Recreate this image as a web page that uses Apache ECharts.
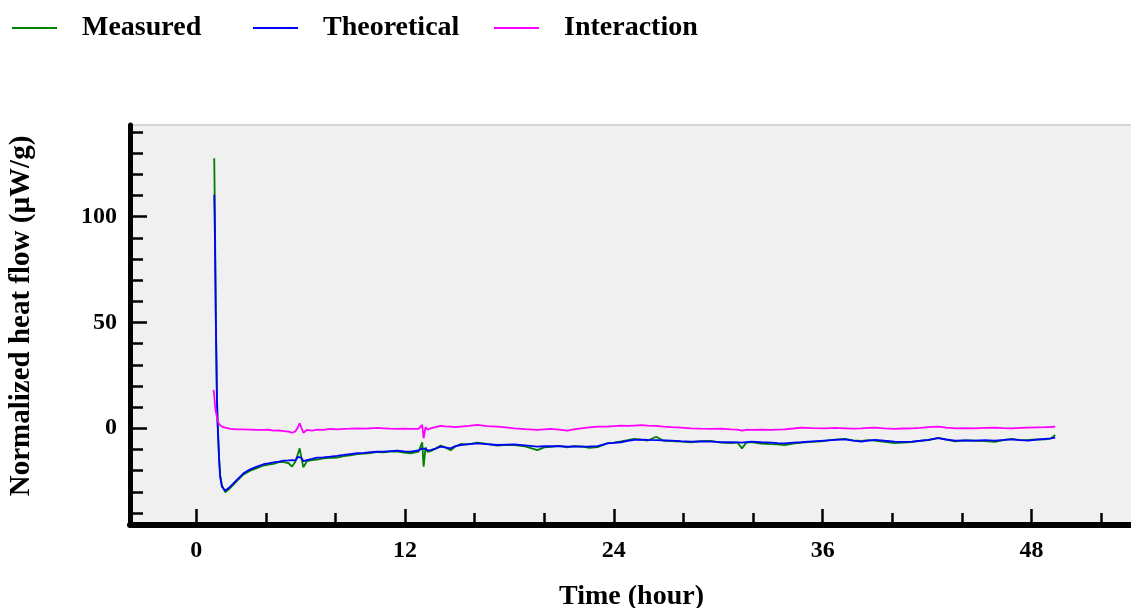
<!DOCTYPE html>
<html>
<head>
<meta charset="utf-8">
<title>Normalized heat flow</title>
<script src="https://cdn.jsdelivr.net/npm/echarts@6.0.0/dist/echarts.min.js"></script>
<style>
  html, body { margin: 0; padding: 0; background: #ffffff; }
  #chart { width: 1131px; height: 608px; }
</style>
</head>
<body>
<div id="chart"></div>
<script>
// Time axis (hours) shared by all three curves
const hours = [
  1.00, 1.04, 1.08, 1.13, 1.19, 1.23, 1.32, 1.38, 1.48, 1.67, 1.96, 2.34, 2.72, 3.11, 3.49, 3.87,
  4.15, 4.45, 4.75, 5.03, 5.30, 5.51, 5.70, 5.85, 5.95, 6.05, 6.16, 6.37, 6.65, 6.95, 7.30, 7.71,
  8.10, 8.48, 8.85, 9.25, 9.65, 10.02, 10.40, 10.78, 11.15, 11.55, 11.95, 12.32, 12.78, 12.99, 13.07,
  13.18, 13.30, 13.47, 13.75, 14.05, 14.30, 14.62, 14.90, 15.20, 15.65, 16.16, 16.70, 17.31, 17.80,
  18.27, 18.90, 19.61, 20.00, 20.38, 20.85, 21.34, 21.70, 22.11, 22.60, 23.07, 23.64, 24.00, 24.41,
  24.80, 25.18, 25.56, 25.95, 26.43, 26.85, 27.29, 27.85, 28.44, 29.00, 29.59, 30.15, 30.74, 31.10,
  31.36, 31.60, 31.89, 32.45, 33.05, 33.40, 33.81, 34.30, 34.77, 35.40, 36.11, 36.70, 37.27, 37.75,
  38.23, 38.60, 38.99, 39.55, 40.14, 40.60, 41.11, 41.60, 42.07, 42.64, 43.10, 43.60, 44.20, 44.75,
  45.30, 45.90, 46.40, 46.86, 47.35, 47.82, 48.30, 48.78, 49.10, 49.36
];

// Measured heat flow (µW/g)
const measured = [
  null, 127.6, 100, 55, 18, 4, -14, -22, -27, -30.2, -28.2, -25, -21.8, -20, -18.8, -17.6,
  -17.2, -16.8, -16.0, -16.0, -16.4, -18.1, -15.8, -12.0, -9.5, -14.0, -18.4, -15.5, -15.0, -14.8, -14.2, -14.0,
  -13.9, -13.2, -12.8, -12.2, -12.0, -11.7, -11.2, -11.4, -11.0, -10.9, -11.5, -11.8, -11.0, -6.6, -18.1,
  -9.0, -11.2, -10.8, -9.6, -8.2, -9.0, -10.4, -8.6, -7.5, -7.6, -6.8, -7.4, -8.2, -7.8,
  -7.9, -8.5, -10.3, -9.0, -8.8, -8.3, -9.0, -8.4, -8.6, -9.2, -8.9, -7.0, -6.8, -6.2,
  -5.6, -5.0, -5.4, -5.8, -4.0, -5.9, -6.0, -6.3, -6.6, -6.1, -6.0, -6.8, -7.0, -6.7,
  -9.5, -6.9, -6.5, -7.2, -7.5, -7.6, -8.0, -7.2, -6.8, -6.4, -6.0, -5.4, -5.0, -5.7,
  -6.0, -5.6, -5.8, -6.4, -7.0, -6.8, -6.5, -6.0, -5.6, -4.5, -5.4, -6.2, -5.7, -5.9,
  -6.1, -6.4, -5.6, -5.0, -5.6, -5.5, -5.3, -5.2, -4.9, -3.2
];

// Theoretical heat flow (µW/g)
const theoretical = [
  null, 110.3, 90, 52, 16, 3, -15, -22.9, -27.6, -29.5, -27.6, -24.4, -21.3, -19.4, -18.1, -17.0,
  -16.6, -16.1, -15.8, -15.3, -15.2, -15.0, -15.2, -13.5, -12.6, -14.0, -15.5, -15.0, -14.5, -13.9, -13.7, -13.4,
  -13.0, -12.6, -12.2, -11.8, -11.6, -11.3, -11.1, -11.0, -10.8, -10.6, -10.9, -11.0, -10.5, -9.5, -10.0,
  -9.8, -10.4, -10.3, -9.6, -8.7, -9.0, -9.5, -8.4, -7.9, -7.5, -7.1, -7.5, -7.9, -7.7,
  -7.6, -8.1, -8.7, -8.5, -8.4, -8.5, -8.7, -8.6, -8.7, -8.6, -8.4, -7.1, -6.9, -6.6,
  -5.9, -5.5, -5.4, -5.5, -5.6, -5.7, -5.8, -6.1, -6.3, -6.2, -6.3, -6.5, -6.6, -6.7,
  -6.8, -6.5, -6.3, -6.6, -6.8, -7.0, -7.1, -6.8, -6.6, -6.2, -5.8, -5.5, -5.2, -5.8,
  -6.3, -5.8, -5.5, -5.9, -6.3, -6.4, -6.3, -5.9, -5.5, -4.7, -5.3, -5.8, -5.7, -5.8,
  -5.6, -5.8, -5.5, -5.2, -5.6, -5.8, -5.4, -5.0, -4.8, -4.4
];

// Interaction heat flow (µW/g)
const interaction = [
  18.1, 15.5, 11, 8, 5.5, 3.5, 2.0, 1.5, 0.8, 0.3, -0.3, -0.5, -0.5, -0.6, -0.8, -0.8,
  -0.7, -1.1, -1.0, -1.3, -1.6, -2.1, -1.5, 0.5, 2.4, 0.2, -2.1, -0.8, -1.1, -0.6, -0.8, -0.3,
  -0.5, -0.3, -0.2, 0, -0.2, 0, 0.2, 0, -0.2, -0.3, -0.2, -0.3, -0.3, 1.6, -4.7,
  0.5, -0.6, 0, 0.6, 1.1, 0.9, 0.8, 0.5, 0.8, 1.1, 1.6, 1.0, 0.8, 0.4,
  0, -0.4, -0.8, -0.5, -0.3, -0.6, -1.1, -0.5, 0, 0.4, 0.8, 0.8, 1.0, 1.3,
  1.1, 1.3, 1.5, 1.3, 1.1, 0.8, 0.5, 0.3, 0, -0.2, -0.3, -0.2, -0.5, -0.6,
  -1.1, -0.7, -0.8, -0.6, -0.8, -0.6, -0.5, -0.1, 0.3, 0.1, 0, 0.2, 0, -0.2,
  0, 0.2, 0.3, 0, -0.3, -0.1, 0, 0.2, 0.5, 0.8, 0.3, 0, 0.1, 0,
  0.2, 0.3, 0.1, 0, 0.2, 0.3, 0.4, 0.5, 0.6, 0.8
];

// Tick positions
const xMajorTicks = [0, 12, 24, 36, 48];
const xMinorTicks = [4, 8, 16, 20, 28, 32, 40, 44, 52];
const yMajorTicks = [0, 50, 100];
const yMinorTicks = [-40, -30, -20, -10, 10, 20, 30, 40, 60, 70, 80, 90, 110, 120, 130, 140];

const pairs = vals => hours.map((t, i) => [t, vals[i]]);

const serifFont = "'Liberation Serif', 'Times New Roman', serif";
const X_MIN = -3.8, X_MAX = 53.83, Y_MIN = -45.7, Y_MAX = 143.3;

const legendText = {
  color: '#000', fontFamily: serifFont, fontWeight: 'bold', fontSize: 28,
  padding: [0, 0, 16, 20]
};
const makeLegend = (name, left) => ({
  data: [name], left: left, top: 9, icon: 'rect', itemWidth: 45, itemHeight: 2,
  textStyle: legendText, selectedMode: false
});

const chart = echarts.init(document.getElementById('chart'), null, { renderer: 'canvas' });

chart.setOption({
  animation: false,
  backgroundColor: '#ffffff',
  legend: [
    makeLegend('Measured', 7),
    makeLegend('Theoretical', 248),
    makeLegend('Interaction', 489)
  ],
  grid: {
    left: 130, right: -2, top: 125, bottom: 83,
    outerBoundsMode: 'none',
    show: true, backgroundColor: '#f0f0f0', borderColor: '#d6d6d6', borderWidth: 2,
    containLabel: false
  },
  xAxis: [
    {
      type: 'value', min: X_MIN, max: X_MAX, position: 'bottom',
      name: 'Time (hour)', nameLocation: 'middle', nameGap: 58,
      nameTextStyle: { color: '#000', fontFamily: serifFont, fontWeight: 'bold', fontSize: 28 },
      axisLine: { show: true, onZero: false, lineStyle: { color: '#000', width: 6 } },
      axisTick: { show: true, inside: true, length: 16, customValues: xMajorTicks,
                  lineStyle: { color: '#000', width: 2.5 } },
      axisLabel: { show: true, customValues: xMajorTicks, margin: 14, color: '#000',
                   fontFamily: serifFont, fontWeight: 'bold', fontSize: 24 },
      splitLine: { show: false }
    },
    {
      type: 'value', min: X_MIN, max: X_MAX, position: 'bottom',
      axisLine: { show: false, onZero: false },
      axisTick: { show: true, inside: true, length: 12, customValues: xMinorTicks,
                  lineStyle: { color: '#000', width: 2.5 } },
      axisLabel: { show: false },
      splitLine: { show: false }
    }
  ],
  yAxis: [
    {
      type: 'value', min: Y_MIN, max: Y_MAX, position: 'left',
      name: 'Normalized heat flow (µW/g)', nameLocation: 'middle', nameGap: 94,
      nameTextStyle: { color: '#000', fontFamily: serifFont, fontWeight: 'bold', fontSize: 29,
                       padding: [0, 0, 0, 18] },
      axisLine: { show: true, onZero: false, lineStyle: { color: '#000', width: 5 } },
      axisTick: { show: true, inside: true, length: 17, customValues: yMajorTicks,
                  lineStyle: { color: '#000', width: 2.5 } },
      axisLabel: { show: true, customValues: yMajorTicks, margin: 13, color: '#000',
                   padding: [4, 0, 0, 0],
                   fontFamily: serifFont, fontWeight: 'bold', fontSize: 24 },
      splitLine: { show: false }
    },
    {
      type: 'value', min: Y_MIN, max: Y_MAX, position: 'left',
      axisLine: { show: false, onZero: false },
      axisTick: { show: true, inside: true, length: 13, customValues: yMinorTicks,
                  lineStyle: { color: '#000', width: 2.5 } },
      axisLabel: { show: false },
      splitLine: { show: false }
    }
  ],
  series: [
    {
      name: 'Measured', type: 'line', xAxisIndex: 0, yAxisIndex: 0,
      data: pairs(measured), showSymbol: false, connectNulls: false,
      lineStyle: { color: '#008000', width: 1.8 }, itemStyle: { color: '#008000' }
    },
    {
      name: 'Theoretical', type: 'line', xAxisIndex: 0, yAxisIndex: 0,
      data: pairs(theoretical), showSymbol: false, connectNulls: false,
      lineStyle: { color: '#0000ff', width: 1.8 }, itemStyle: { color: '#0000ff' }
    },
    {
      name: 'Interaction', type: 'line', xAxisIndex: 0, yAxisIndex: 0,
      data: pairs(interaction), showSymbol: false,
      lineStyle: { color: '#ff00ff', width: 1.8 }, itemStyle: { color: '#ff00ff' }
    }
  ]
});
</script>
</body>
</html>
